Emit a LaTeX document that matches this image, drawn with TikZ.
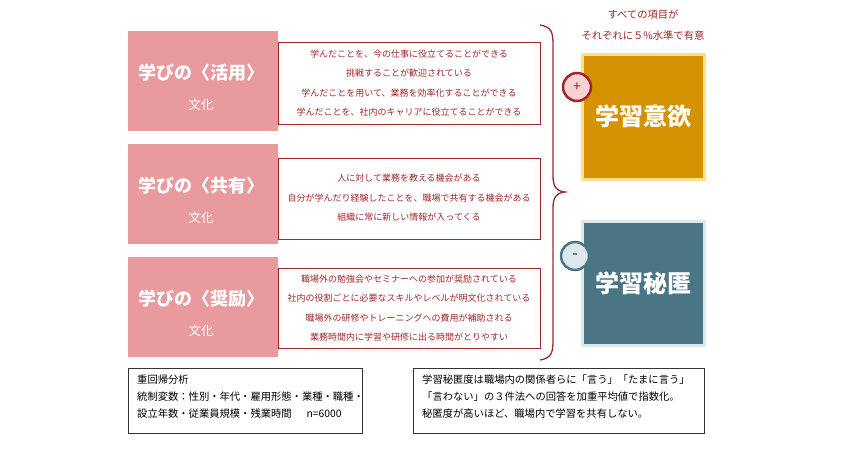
\documentclass[tikz,border=0pt]{standalone}
\usepackage{fontspec}
\setmainfont{Noto Sans CJK JP}
\definecolor{pk}{HTML}{E89A9E}
\definecolor{dr}{HTML}{A0262A}
\definecolor{og}{HTML}{D59200}
\definecolor{ogb}{HTML}{FFE08A}
\definecolor{bl}{HTML}{4A7585}
\definecolor{blb}{HTML}{DDE8EC}
\begin{document}
\begin{tikzpicture}[x=1pt,y=-1pt,
 lst/.style={text=dr,font=\fontsize{9}{19.5}\selectfont,align=center},
 nt/.style={anchor=north west,align=left,font=\fontsize{10.3}{17}\selectfont,inner sep=0}]
\useasboundingbox (0,0) rectangle (846,450);
% pink boxes
\foreach \n/\t/\y in {p1/活用/31,p2/共有/144,p3/奨励/257}{
 \fill[pk] (128,\y) rectangle (278,\y+100);
 \node[text=white,font=\fontsize{18}{20}\selectfont\bfseries] (\n) at (201,\y+42) {学びの〈\t〉};
 \node[text=white,font=\fontsize{12.5}{14}\selectfont] at (201,\y+74) {文化};
}
\draw[dr] (278,42) rectangle (540,124);
\node[lst] (t1) at (409,83) {学んだことを、今の仕事に役立てることができる\\挑戦することが歓迎されている\\学んだことを用いて、業務を効率化することができる\\学んだことを、社内のキャリアに役立てることができる};
\draw[dr] (278,158) rectangle (540,239);
\node[lst] (t2) at (409,198) {人に対して業務を教える機会がある\\自分が学んだり経験したことを、職場で共有する機会がある\\組織に常に新しい情報が入ってくる};
\draw[dr] (278,268) rectangle (540,348);
\node[lst] (t3) at (409,308) {職場外の勉強会やセミナーへの参加が奨励されている\\社内の役割ごとに必要なスキルやレベルが明文化されている\\職場外の研修やトレーニングへの費用が補助される\\業務時間内に学習や研修に出る時間がとりやすい};
% brace
\draw[dr,line width=1.3pt] (540,25) .. controls (552,27) and (553,33) .. (553,45) -- (553,175) .. controls (553,187) and (556,191) .. (565,192) .. controls (556,193) and (553,197) .. (553,209) -- (553,340) .. controls (553,352) and (552,358) .. (540,360);
% result boxes
\node[text=dr,font=\fontsize{10.3}{21}\selectfont,align=center] (top) at (643,25) {すべての項目が\\それぞれに５\%水準で有意};
\node[fill=og,draw=ogb,line width=3pt,minimum width=122,minimum height=125,inner sep=0,text=white,font=\fontsize{24}{26}\selectfont\bfseries] (a) at (643,116.5) {学習意欲};
\node[fill=bl,draw=blb,line width=3pt,minimum width=122,minimum height=124,inner sep=0,text=white,font=\fontsize{24}{26}\selectfont\bfseries] (b) at (643,283) {学習秘匿};
\node[circle,fill=pk!45,draw=dr,line width=2.5pt,minimum size=28,inner sep=0,font=\fontsize{14}{14}\selectfont,text=dr] (plus) at (577,87) {+};
\node[circle,fill=blb,draw=bl,line width=2.5pt,minimum size=28,inner sep=0,font=\fontsize{14}{14}\selectfont\bfseries,text=bl] (minus) at (575,256) {-};
% notes
\draw[black!80] (128,368) rectangle (362,433);
\node[nt] (n1) at (137,375) {重回帰分析\\統制変数：性別・年代・雇用形態・業種・職種・\\設立年数・従業員規模・残業時間\quad\ \ n=6000};
\draw[black!80] (413,368) rectangle (704,433);
\node[nt] (n2) at (422,375) {学習秘匿度は職場内の関係者らに「言う」「たまに言う」\\「言わない」の３件法への回答を加重平均値で指数化。\\秘匿度が高いほど、職場内で学習を共有しない。};
\end{tikzpicture}
\end{document}
